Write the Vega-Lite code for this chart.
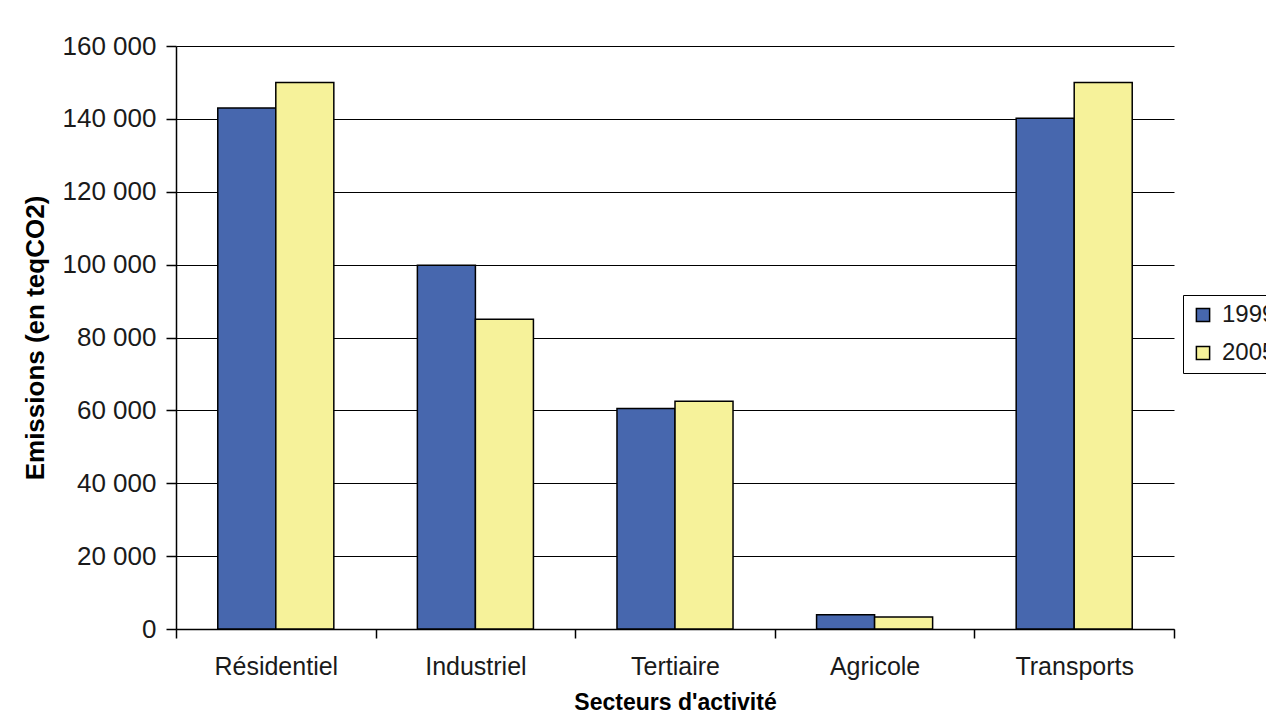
{
  "$schema": "https://vega.github.io/schema/vega-lite/v6.json",
  "description": "Emissions (en teqCO2) par secteur d'activité, 1999 et 2005",
  "autosize": "none",
  "padding": {"left": 176, "top": 46, "right": 92, "bottom": 82},
  "width": 998,
  "height": 583,
  "background": "white",
  "data": {
    "values": [
      {"secteur": "Résidentiel", "annee": "1999", "emissions": 143000},
      {"secteur": "Résidentiel", "annee": "2005", "emissions": 150000},
      {"secteur": "Industriel", "annee": "1999", "emissions": 99800},
      {"secteur": "Industriel", "annee": "2005", "emissions": 85000},
      {"secteur": "Tertiaire", "annee": "1999", "emissions": 60500},
      {"secteur": "Tertiaire", "annee": "2005", "emissions": 62500},
      {"secteur": "Agricole", "annee": "1999", "emissions": 3900},
      {"secteur": "Agricole", "annee": "2005", "emissions": 3300},
      {"secteur": "Transports", "annee": "1999", "emissions": 140200},
      {"secteur": "Transports", "annee": "2005", "emissions": 150000}
    ]
  },
  "mark": {"type": "bar", "stroke": "black", "strokeWidth": 1.5},
  "encoding": {
    "x": {
      "field": "secteur",
      "type": "nominal",
      "sort": ["Résidentiel", "Industriel", "Tertiaire", "Agricole", "Transports"],
      "scale": {"paddingInner": 0, "paddingOuter": 0},
      "axis": {
        "title": "Secteurs d'activité",
        "labelAngle": 0,
        "tickBand": "extent",
        "tickSize": 9,
        "labelPadding": 16,
        "titlePadding": 12,
        "titleFontSize": 23,
        "grid": false
      }
    },
    "xOffset": {
      "field": "annee",
      "type": "nominal",
      "scale": {"paddingInner": 0, "paddingOuter": 0.72}
    },
    "y": {
      "field": "emissions",
      "type": "quantitative",
      "scale": {"domain": [0, 160000], "nice": false},
      "axis": {
        "title": "Emissions (en teqCO2)",
        "values": [0, 20000, 40000, 60000, 80000, 100000, 120000, 140000, 160000],
        "labelExpr": "replace(format(datum.value, ',d'), ',', ' ')",
        "labelFontSize": 26,
        "tickSize": 10,
        "labelPadding": 10,
        "titlePadding": 14,
        "titleFontSize": 26,
        "grid": true
      }
    },
    "color": {
      "field": "annee",
      "type": "nominal",
      "scale": {"domain": ["1999", "2005"], "range": ["#4767AE", "#F6F29A"]},
      "legend": {
        "title": null,
        "orient": "none",
        "legendX": 1007,
        "legendY": 249,
        "symbolType": "square",
        "symbolSize": 175,
        "symbolStrokeColor": "black",
        "symbolStrokeWidth": 1.5,
        "labelFontSize": 24,
        "labelColor": "#1a1a1a",
        "labelOffset": 7,
        "rowPadding": 14,
        "padding": 8,
        "strokeColor": "black",
        "fillColor": "white"
      }
    }
  },
  "config": {
    "font": "Liberation Sans",
    "view": {"stroke": null},
    "axis": {
      "domainColor": "black",
      "domainWidth": 1.5,
      "tickColor": "black",
      "tickWidth": 1.5,
      "gridColor": "black",
      "gridWidth": 1.2,
      "gridOpacity": 1,
      "labelFont": "Liberation Sans",
      "labelFontSize": 25,
      "labelColor": "#1a1a1a",
      "titleFont": "Liberation Sans",
      "titleFontSize": 25,
      "titleFontWeight": "bold",
      "titleColor": "black"
    },
    "legend": {"labelFont": "Liberation Sans"}
  }
}
